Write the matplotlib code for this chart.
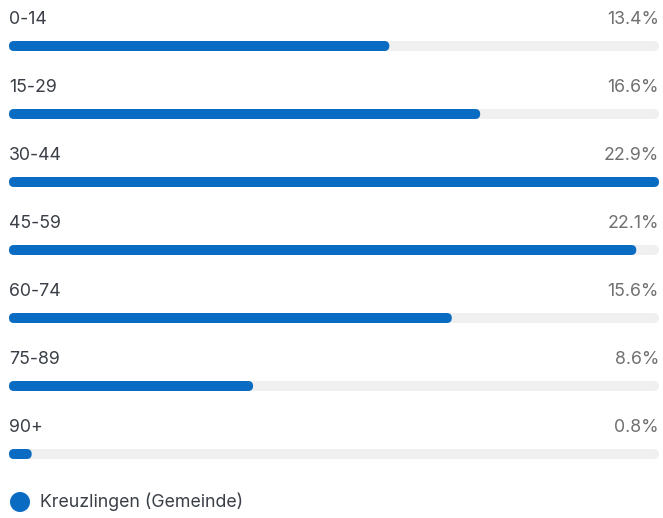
import matplotlib.pyplot as plt
from matplotlib.patches import FancyBboxPatch, Circle

groups = ['0-14', '15-29', '30-44', '45-59', '60-74', '75-89', '90+']
shares = [13.4, 16.6, 22.9, 22.1, 15.6, 8.6, 0.8]
series_name = 'Kreuzlingen (Gemeinde)'

blue = '#0a6bc2'
track = '#f0f0f0'

plt.rcParams['font.family'] = ['Inter', 'DejaVu Sans']

fig = plt.figure(figsize=(6.63, 5.18), dpi=100)
ax = fig.add_axes([0, 0, 1, 1])
ax.set_xlim(0, 663)
ax.set_ylim(518, 0)
ax.axis('off')

left, full = 9, 650
bar_h = 10
top = 41
step = 68
vmax = max(shares)

for i, (g, v) in enumerate(zip(groups, shares)):
    y = top + i * step
    ax.add_patch(FancyBboxPatch((left, y), full, bar_h,
                                boxstyle='round,pad=0,rounding_size=5',
                                fc=track, ec='none'))
    w = v / vmax * full
    ax.add_patch(FancyBboxPatch((left, y), w, bar_h,
                                boxstyle='round,pad=0,rounding_size=5',
                                fc=blue, ec='none'))
    ax.text(left, y - 22, g, fontsize=12.8, color='#3a3f47', va='center', ha='left')
    ax.text(left + full, y - 22, f'{v}%', fontsize=12.8, color='#707070',
            va='center', ha='right')

ax.add_patch(Circle((20, 502), 10, fc=blue, ec='none'))
ax.text(40, 502, series_name, fontsize=12.8, color='#3a3f47', va='center', ha='left')

fig.savefig('out.png', dpi=100)
